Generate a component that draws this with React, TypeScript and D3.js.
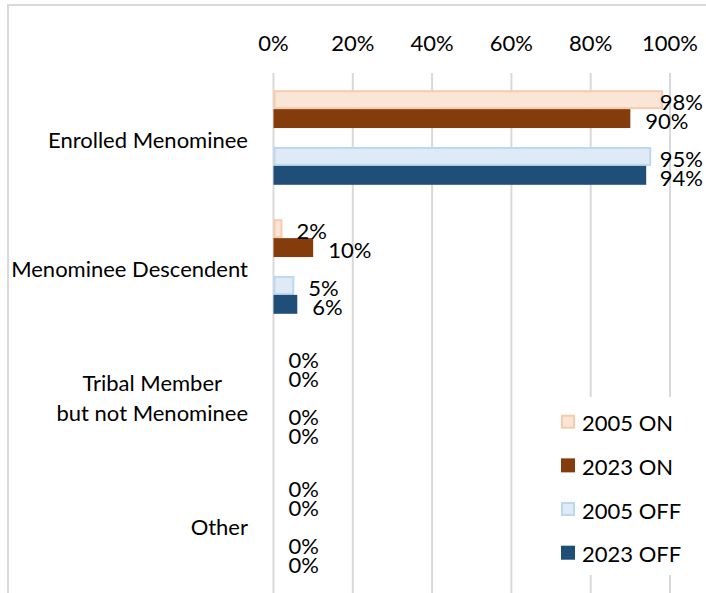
import React, { useEffect, useRef } from "react";
import * as d3 from "d3";

const categories = ["Enrolled Menominee", "Menominee Descendent", "Tribal Member\nbut not Menominee", "Other"];
const seriesNames = ["2005 ON", "2023 ON", "2005 OFF", "2023 OFF"];
const on2005 = [0.98, 0.02, 0, 0];
const on2023 = [0.9, 0.1, 0, 0];
const off2005 = [0.95, 0.05, 0, 0];
const off2023 = [0.94, 0.06, 0, 0];
const tickValues = [0, 0.2, 0.4, 0.6, 0.8, 1.0];

const fills = ["#fbe5d6", "#843c0c", "#deebf7", "#1f4e79"];
const strokes = ["#f8cbad", "#843c0c", "#bdd7ee", "#1f4e79"];

const W = 706;
const H = 593;
const FONT = "Lato, 'Open Sans', sans-serif";
const FS = 22;

export default function App() {
  const ref = useRef<SVGSVGElement>(null);
  useEffect(() => {
    const svg = d3.select(ref.current);
    svg.selectAll("*").remove();
    const seriesValues = [on2005, on2023, off2005, off2023];

    const x = d3.scaleLinear().domain([0, 1]).range([273.5, 670]);
    const y = d3.scaleBand<string>().domain(categories).range([73, 589]).padding(0);
    const slots = [seriesNames[0], seriesNames[1], "gap", seriesNames[2], seriesNames[3]];
    const yi = d3.scaleBand<string>().domain(slots).range([0, y.bandwidth()]).paddingInner(0).paddingOuter(0.91);

    // frame
    svg.append("path").attr("d", `M8,${H} L8,5 L${W},5`).attr("fill", "none").attr("stroke", "#d9d9d9").attr("stroke-width", 2);

    // gridlines
    svg.append("g").selectAll("line").data(tickValues).join("line")
      .attr("x1", d => x(d)).attr("x2", d => x(d))
      .attr("y1", 73).attr("y2", H)
      .attr("stroke", "#d9d9d9").attr("stroke-width", 2);

    // tick labels
    svg.append("g").selectAll("text").data(tickValues).join("text")
      .attr("x", d => x(d)).attr("y", 42)
      .attr("text-anchor", "middle").attr("dominant-baseline", "central")
      .attr("font-family", FONT).attr("font-size", FS).attr("fill", "#000")
      .text(d => d3.format(".0%")(d));

    // bars
    const bars = svg.append("g");
    const labels = svg.append("g");
    seriesValues.forEach((vals, si) => {
      const name = seriesNames[si];
      const light = si === 0 || si === 2;
      vals.forEach((v, ci) => {
        const cat = categories[ci];
        const y0 = (y(cat) as number) + (yi(name) as number);
        const bh = yi.bandwidth();
        if (v > 0) {
          if (light) {
            bars.append("rect")
              .attr("x", x(0) + 1).attr("y", y0 + 1)
              .attr("width", x(v) - x(0) - 1).attr("height", bh - 2)
              .attr("fill", fills[si]).attr("stroke", strokes[si]).attr("stroke-width", 2);
          } else {
            bars.append("rect")
              .attr("x", x(0)).attr("y", y0)
              .attr("width", x(v) - x(0)).attr("height", bh)
              .attr("fill", fills[si]);
          }
        }
        const t = labels.append("text")
          .attr("x", x(v) + 15).attr("y", y0 + bh / 2 + 2)
          .attr("dominant-baseline", "central")
          .attr("font-family", FONT).attr("font-size", FS).attr("fill", "#000")
          .text(d3.format(".0%")(v));
        const node = t.node() as SVGTextElement;
        const w = node.getComputedTextLength();
        if (x(v) + 15 + w > W - 3) t.attr("x", W - 3 - w);
      });
    });

    // category labels
    const catG = svg.append("g");
    categories.forEach(cat => {
      const lines = cat.split("\n");
      const cy = (y(cat) as number) + y.bandwidth() / 2 + 2;
      const lh = 30;
      const t = catG.append("text")
        .attr("font-family", FONT).attr("font-size", FS).attr("fill", "#000")
        .attr("text-anchor", "middle");
      lines.forEach((ln, i) => {
        t.append("tspan").attr("dominant-baseline", "central")
          .attr("y", cy + (i - (lines.length - 1) / 2) * lh).text(ln);
      });
      let maxW = 0;
      t.selectAll<SVGTSpanElement, unknown>("tspan").each(function () {
        maxW = Math.max(maxW, this.getComputedTextLength());
      });
      t.selectAll("tspan").attr("x", 248 - maxW / 2);
    });

    // legend
    const lg = svg.append("g");
    lg.append("rect").attr("x", 553).attr("y", 397).attr("width", 150).attr("height", 178).attr("fill", "#fff");
    const ly = d3.scalePoint<string>().domain(seriesNames).range([421.7, 552.7]);
    seriesNames.forEach((name, si) => {
      const light = si === 0 || si === 2;
      lg.append("rect")
        .attr("x", light ? 562 : 561).attr("y", (ly(name) as number) - (light ? 6 : 7))
        .attr("width", light ? 12 : 14).attr("height", light ? 12 : 14)
        .attr("fill", fills[si]).attr("stroke", light ? strokes[si] : "none").attr("stroke-width", 2);
      lg.append("text")
        .attr("x", 582).attr("y", (ly(name) as number) + 1)
        .attr("dominant-baseline", "central")
        .attr("font-family", FONT).attr("font-size", FS).attr("fill", "#000")
        .text(name);
    });
  }, []);

  return (
    <svg ref={ref} width={W} height={H} style={{ position: "absolute", left: 0, top: 0, background: "#fff" }} />
  );
}
